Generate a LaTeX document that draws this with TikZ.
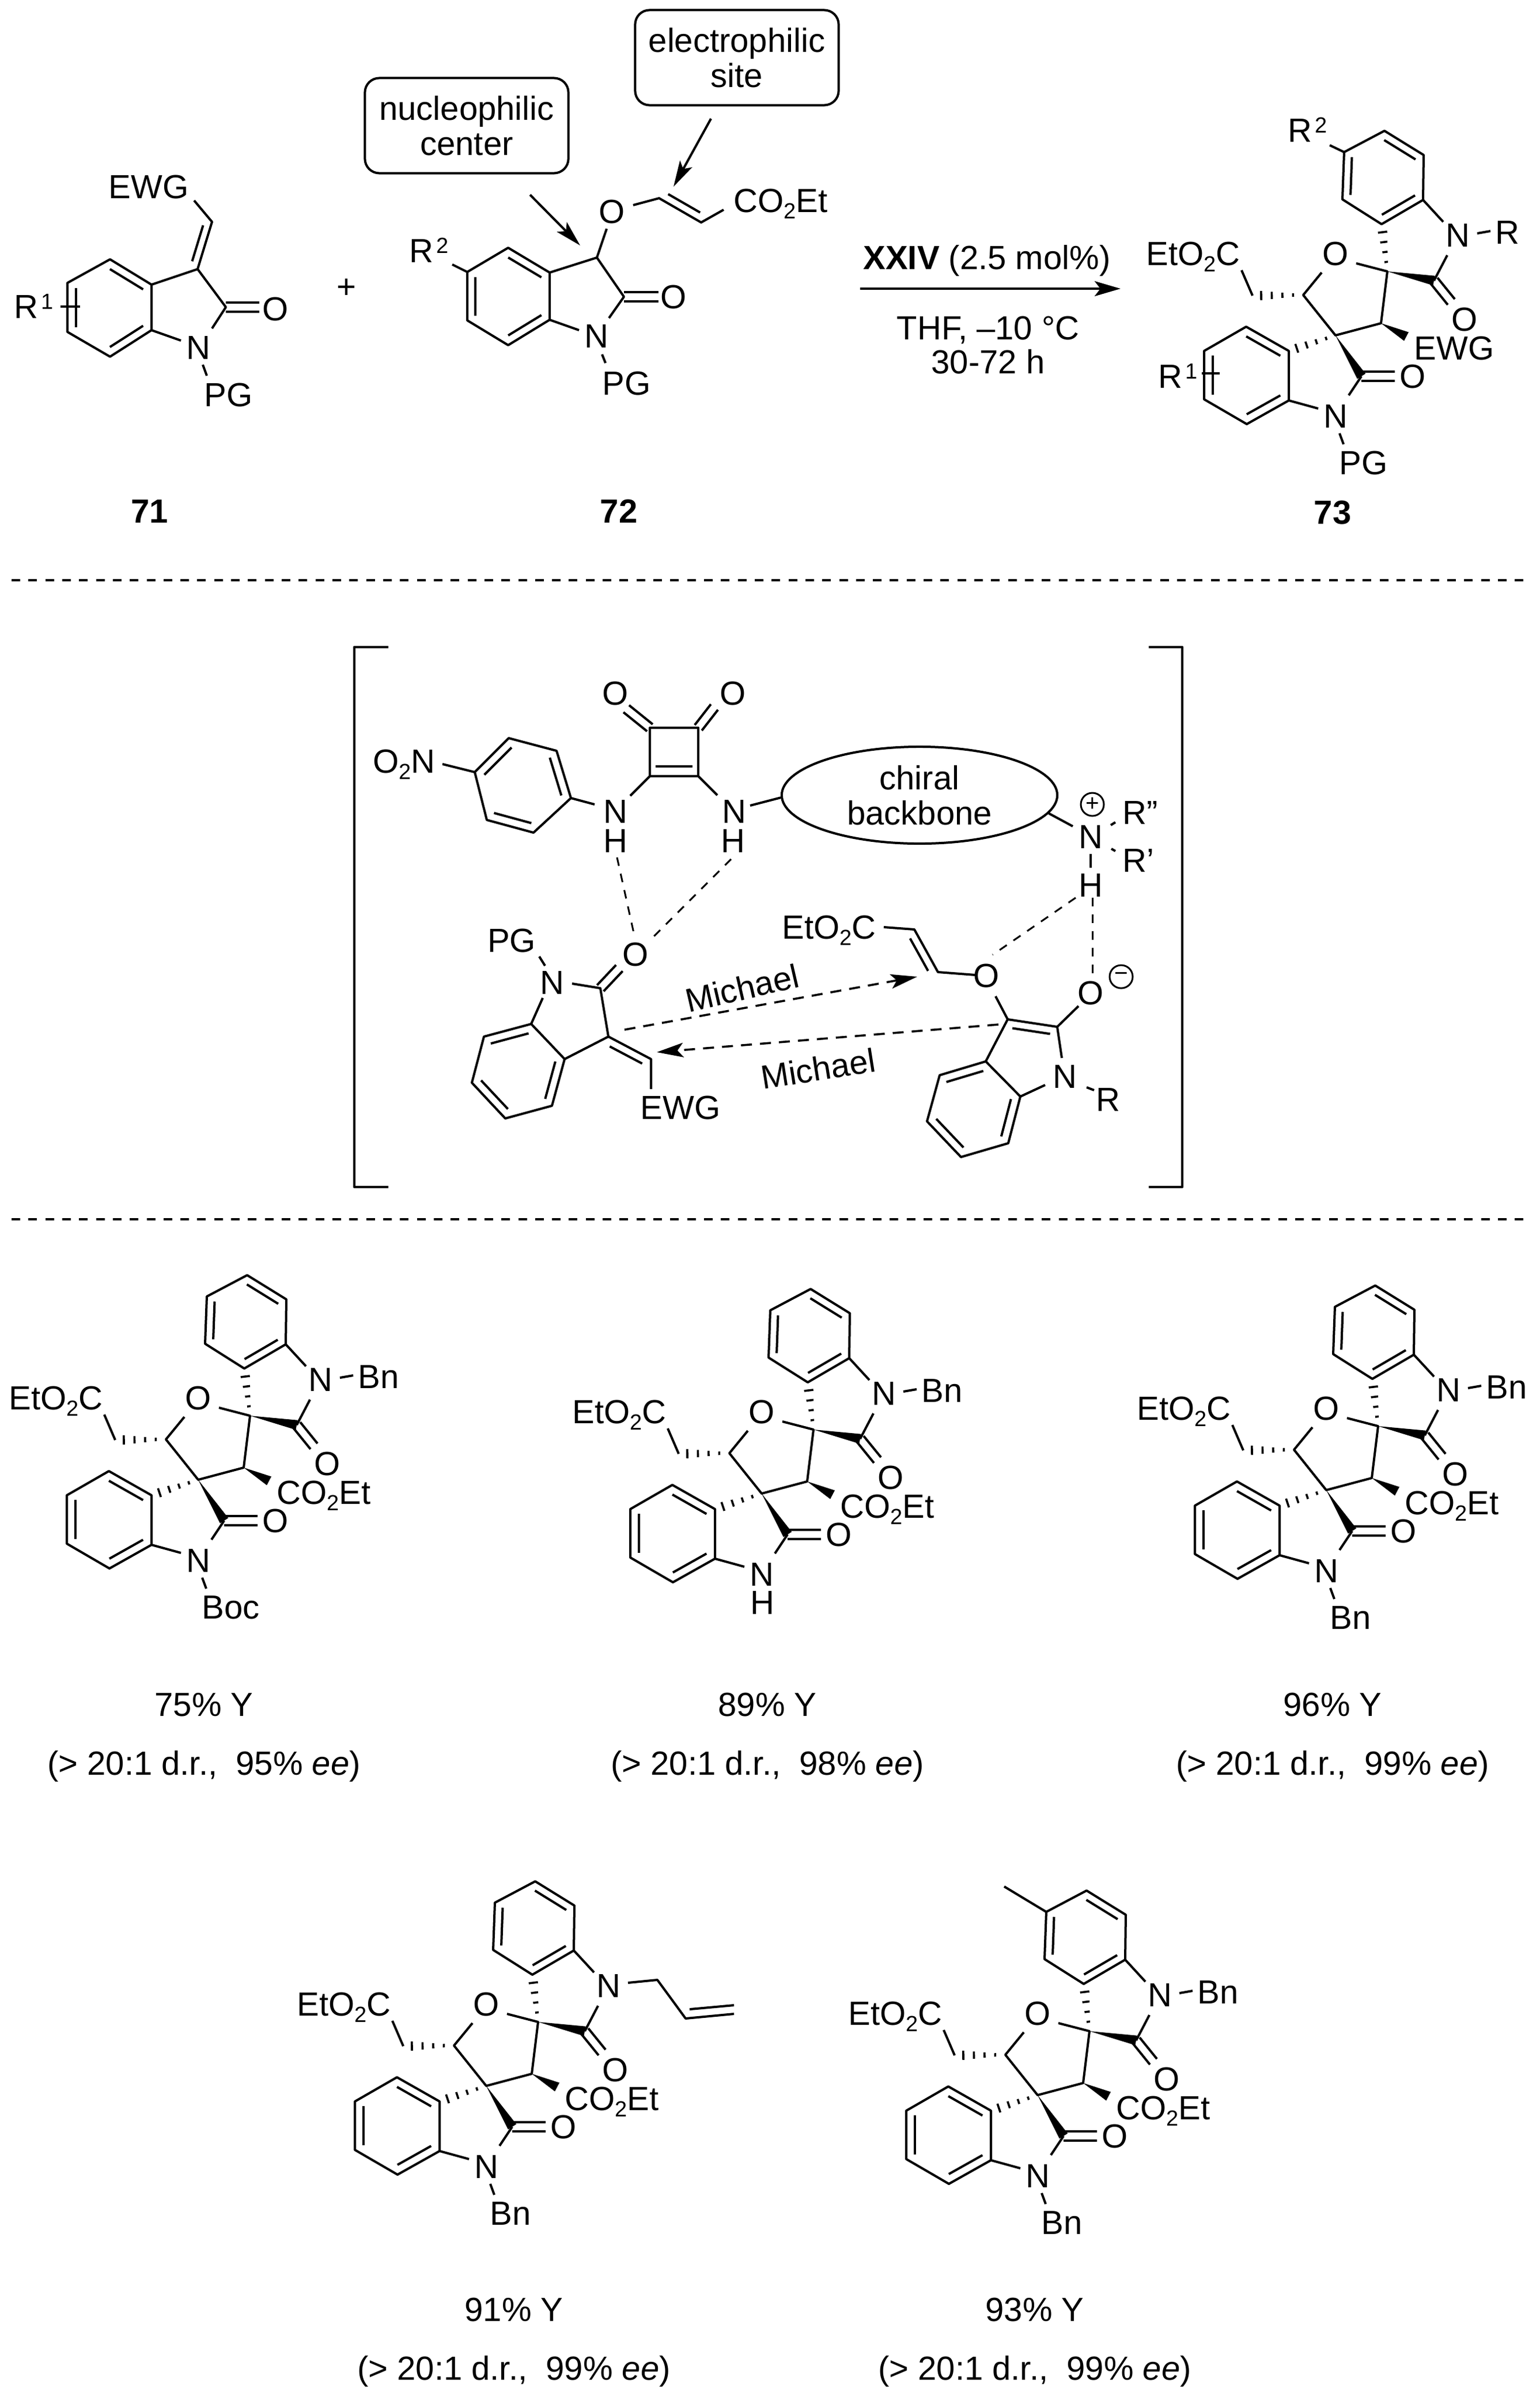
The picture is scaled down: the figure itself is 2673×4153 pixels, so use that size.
\documentclass[tikz,border=0pt]{standalone}
\usepackage{fontspec}
\setmainfont{Liberation Sans}[Ligatures=ResetAll]
\usetikzlibrary{calc,arrows.meta,shapes.geometric}

\newcommand{\chemfont}{\fontsize{16.5}{17.3}\selectfont}
\newcommand{\lowd}[1]{\raisebox{-.11cm}{\fontsize{10.8}{11}\selectfont #1}}
\newcommand{\highd}[1]{\kern.05cm\raisebox{.16cm}{\fontsize{10.8}{11}\selectfont #1}}

\tikzset{
    bond/.style={line width=.04cm,line join=round},
    hashline/.style={line width=.036cm},
    hbond/.style={line width=.03cm,dash pattern=on .15cm off .14cm},
    rule/.style={line width=.04cm,dash pattern=on .15cm off .143cm},
    atom/.style={inner sep=0pt,font=\chemfont,text height=.41cm,text depth=0pt},
    tag/.style={atom,font=\chemfont\bfseries},
    callout/.style={draw,line width=.04cm,rounded corners=.25cm,minimum width=3.53cm,
        minimum height=1.65cm,align=center,font=\chemfont},
    charge/.style={draw,circle,line width=.03cm,inner sep=0pt,minimum size=.4cm,
        font=\fontsize{11.5}{12}\selectfont},
    pointer/.style={bond,-{Stealth[length=.45cm,width=.24cm,inset=.1cm]}},
    attack/.style={line width=.036cm,dash pattern=on .19cm off .14cm,
        -{Stealth[length=.46cm,width=.25cm,inset=.1cm]}},
}

% a ring whose bonds 1-2, 3-4 and 5-6 are double
\newcommand{\benzring}[7]{%
    \coordinate (#11) at (#2);
    \coordinate (#12) at (#3);
    \coordinate (#13) at (#4);
    \coordinate (#14) at (#5);
    \coordinate (#15) at (#6);
    \coordinate (#16) at (#7);
    \coordinate (#1c) at ($(#11)!.5!(#14)$);
    \draw[bond] (#11) -- (#12) -- (#13) -- (#14) -- (#15) -- (#16) -- cycle;
    \draw[bond] ($(#11)!.2!(#1c)$) -- ($(#12)!.2!(#1c)$);
    \draw[bond] ($(#13)!.2!(#1c)$) -- ($(#14)!.2!(#1c)$);
    \draw[bond] ($(#15)!.2!(#1c)$) -- ($(#16)!.2!(#1c)$);
}
% C=O, two lines either side of the axis
\newcommand{\dblbond}[2]{%
    \draw[bond] ($(#1)!.078cm!90:(#2)$) -- ($(#2)!.078cm!-90:(#1)$);
    \draw[bond] ($(#1)!.078cm!-90:(#2)$) -- ($(#2)!.078cm!90:(#1)$);
}
% the short second line of an alkene
\newcommand{\sidebond}[3]{%
    \draw[bond] ($(#1)!.12!(#2)!#3!90:(#2)$) -- ($(#2)!.12!(#1)!#3!-90:(#1)$);
}
\newcommand{\wedgebond}[2]{%
    \fill (#1) -- ($(#2)!.085cm!90:(#1)$) -- ($(#2)!.085cm!-90:(#1)$) -- cycle;
}
\newcommand{\hashbond}[2]{%
    \foreach \hstep/\hwid in {.2/.03,.41/.045,.62/.062,.83/.08}{
        \draw[hashline] ($(#1)!\hstep!(#2)!\hwid cm!90:(#2)$)
            -- ($(#1)!\hstep!(#2)!\hwid cm!-90:(#2)$);
    }
}
% the bis-spirooxindole, in the frame of the first product
\newcommand{\spirocore}[1]{%
    \benzring{up}{497,2255}{429,2213}{359,2250}{356,2332}{424,2375}{496,2333}
    \benzring{lo}{263,2595}{189,2553}{116,2595}{116,2679}{190,2722}{263,2681}
    \node[atom] (oring) at (344,2426) {O};
    \node[atom] (ntop) at (556,2394) {N};
    \node[atom] (otop) at (568,2540) {O};
    \node[atom] (nlow) at (344,2708) {N};
    \node[atom] (olow) at (478,2639) {O};
    \node[atom,anchor=east] (ester) at (179,2426) {EtO\lowd{2}C};
    \node[atom,anchor=west] (ewg) at (480,2590) {#1};
    \coordinate (sptop) at (434,2457);
    \coordinate (splow) at (344,2568);
    \coordinate (chest) at (288,2498);
    \coordinate (chewg) at (423,2547);
    \coordinate (cotop) at (515,2473);
    \coordinate (colow) at (389,2639);
    \coordinate (chtwo) at (200,2499);
    \draw[bond] (320,2459) -- (chest) -- (splow) -- (chewg) -- (sptop) -- (380,2443);
    \draw[bond] (chtwo) -- (181,2455);
    \draw[bond] (up6) -- (531,2371);
    \draw[bond] (538,2429) -- (cotop);
    \draw[bond] (colow) -- (367,2672);
    \draw[bond] (lo6) -- (314,2695);
    \hashbond{chest}{chtwo}
    \hashbond{sptop}{up5}
    \hashbond{splow}{lo1}
    \wedgebond{sptop}{cotop}
    \wedgebond{splow}{colow}
    \wedgebond{chewg}{467,2570}
    \dblbond{cotop}{545,2510}
    \dblbond{colow}{447,2639}
}
% N-Bn on the upper lactam
\newcommand{\topgroup}[1]{%
    \draw[bond] (590,2391) -- (613,2387);
    \node[atom,anchor=west] (subtop) at (621,2389) {#1};
}
% substituent on the lower lactam
\newcommand{\lowgroup}[1]{%
    \draw[bond] (351,2738) -- (358,2757);
    \node[atom,anchor=west] (sublow) at (350,2789) {#1};
}

\begin{document}
\begin{tikzpicture}[x=.01cm,y=-.01cm]
        \useasboundingbox (0,0) rectangle (2673,4153);
        % The oxindole 71
        \benzring{ia}{263,494}{191,450}{117,491}{117,576}{191,619}{263,573}
        \coordinate (iac3) at (343,467);
        \coordinate (iac2) at (392,533);
        \coordinate (iach) at (368,385);
        \node[atom] (ian) at (344,603) {N};
        \node[atom] (iao) at (478,536) {O};
        \node[atom] (iaewg) at (258,324) {EWG};
        \node[atom,anchor=west] (iapg) at (354,685) {PG};
        \node[atom,anchor=west] (iar) at (24,532) {R\highd{1}};
        \draw[bond] (ia1) -- (iac3) -- (iac2) -- (368,570);
        \draw[bond] (ia6) -- (314,591);
        \draw[bond] (352,633) -- (359,652);
        \draw[bond] (iac3) -- (iach) -- (337,348);
        \sidebond{iac3}{iach}{.13cm}
        \dblbond{iac2}{450,533}
        \draw[bond] (105,532) -- (139,532);
        \node[tag] (lab71) at (260,887) {71};
        \node[atom] (plus) at (601,497) {+};
        % The oxindole 72
        \benzring{ib}{954,473}{882,430}{811,472}{811,556}{882,599}{954,555}
        \coordinate (ibc3) at (1036,447);
        \coordinate (ibc2) at (1083,515);
        \coordinate (ibva) at (1144,344);
        \coordinate (ibvb) at (1217,386);
        \node[atom] (ibn) at (1035,583) {N};
        \node[atom] (ibo) at (1169,515) {O};
        \node[atom] (ibetho) at (1062,367) {O};
        \node[atom,anchor=west] (ibpg) at (1045,665) {PG};
        \node[atom,anchor=west] (ibr) at (710,435) {R\highd{2}};
        \node[atom,anchor=west] (ibest) at (1273,348) {CO\lowd{2}Et};
        \draw[bond] (ib1) -- (ibc3) -- (ibc2) -- (1057,552);
        \draw[bond] (ib6) -- (1005,573);
        \draw[bond] (1045,615) -- (1051,630);
        \draw[bond] (ib3) -- (785,459);
        \draw[bond] (ibc3) -- (1053,397);
        \draw[bond] (1099,356) -- (ibva) -- (ibvb) -- (1256,364);
        \sidebond{ibva}{ibvb}{.14cm}
        \dblbond{ibc2}{1143,515}
        \node[tag] (lab72) at (1074,887) {72};
        % The two labels and their arrows
        \node[callout] (nucbox) at (810,218) {nucleophilic\\center};
        \node[callout] (elebox) at (1279,100) {electrophilic\\site};
        \coordinate (nucfrom) at (920,338);
        \coordinate (nucto) at (1007,426);
        \coordinate (elefrom) at (1234,206);
        \coordinate (eleto) at (1169,324);
        \draw[pointer] (nucfrom) -- (nucto);
        \draw[pointer] (elefrom) -- (eleto);
        % The reaction arrow
        \coordinate (rxnfrom) at (1493,501);
        \coordinate (rxnto) at (1945,501);
        \draw[bond,-{Stealth[length=.45cm,width=.26cm,inset=.1cm]}] (rxnfrom) -- (rxnto);
        \node[atom] (cond1) at (1713,447) {\textbf{XXIV} (2.5 mol\%)};
        \node[atom] (cond2) at (1715,569) {THF, –10 °C};
        \node[atom] (cond3) at (1715,628) {30-72 h};
        % The product 73
        \begin{scope}[shift={(1974,-1986)},name prefix=pz-]
            \spirocore{EWG}
            \topgroup{R}
            \lowgroup{PG}
            \draw[bond] (up3) -- (334,2238);
            \node[atom,anchor=west] (rtwo) at (261,2212) {R\highd{2}};
            \node[atom,anchor=west] (rone) at (36,2639) {R\highd{1}};
            \draw[bond] (112,2634) -- (143,2634);
        \end{scope}
        \node[tag] (lab73) at (2313,889) {73};
        % The dashed rules
        \draw[rule] (20,1007) -- (2653,1007);
        \draw[rule] (20,2116) -- (2653,2116);
        % The brackets
        \draw[bond,line width=.042cm] (674,1123) -- (615,1123) -- (615,2060) -- (674,2060);
        \draw[bond,line width=.042cm] (1994,1123) -- (2052,1123) -- (2052,2060) -- (1994,2060);
        % The squaramide
        \coordinate (sqa) at (1128,1263);
        \coordinate (sqb) at (1212,1263);
        \coordinate (sqc) at (1212,1347);
        \coordinate (sqd) at (1128,1347);
        \draw[bond] (sqa) -- (sqb) -- (sqc) -- (sqd) -- cycle;
        \sidebond{sqd}{sqc}{.17cm}
        \node[atom] (soa) at (1068,1203) {O};
        \node[atom] (sob) at (1272,1203) {O};
        \dblbond{sqa}{1087,1230}
        \dblbond{sqb}{1240,1227}
        \node[atom] (sna) at (1068,1408) {N};
        \node[atom] (sha) at (1068,1459) {H};
        \node[atom] (snb) at (1274,1408) {N};
        \node[atom] (shb) at (1272,1459) {H};
        \draw[bond] (sqd) -- (1094,1381);
        \draw[bond] (sqc) -- (1245,1380);
        % The nitrophenyl
        \benzring{ar}{824,1340}{883,1281}{966,1303}{991,1385}{926,1445}{845,1423}
        \draw[bond] (ar4) -- (1032,1396);
        \draw[bond] (768,1326) -- (ar1);
        \node[atom,anchor=west] (nitro) at (647,1321) {O\lowd{2}N};
        % The backbone and the ammonium
        \node[draw,ellipse,line width=.04cm,minimum width=4.78cm,minimum height=1.68cm,
            inner sep=0pt,align=center,font=\chemfont] (backbone) at (1596,1380) {chiral\\backbone};
        \draw[bond] (1302,1398) -- (backbone.181);
        \draw[bond] (backbone.-8) -- (1862,1434);
        \node[atom] (amn) at (1893,1452) {N};
        \node[atom] (amh) at (1893,1536) {H};
        \node[charge] (plusn) at (1896,1396) {+};
        \node[atom,anchor=west] (rpp) at (1948,1410) {R''};
        \node[atom,anchor=west] (rp) at (1948,1493) {R'};
        \draw[bond] (1928,1432) -- (1936,1427);
        \draw[bond] (1929,1473) -- (1936,1477);
        \draw[bond] (1893,1482) -- (1893,1506);
        % The oxindole acceptor
        \benzring{ac}{922,1777}{840,1799}{819,1879}{877,1941}{958,1919}{980,1838}
        \coordinate (acc2) at (1042,1715);
        \coordinate (acc3) at (1056,1799);
        \coordinate (acch) at (1130,1838);
        \node[atom] (acn) at (958,1705) {N};
        \node[atom] (aco) at (1103,1656) {O};
        \node[atom] (acpg) at (888,1632) {PG};
        \node[atom] (acewg) at (1181,1922) {EWG};
        \draw[bond] (993,1707) -- (acc2) -- (acc3) -- (ac6);
        \draw[bond] (ac1) -- (942,1732);
        \draw[bond] (936,1660) -- (946,1676);
        \draw[bond] (acc3) -- (acch) -- (1130,1890);
        \sidebond{acc3}{acch}{-.14cm}
        \dblbond{acc2}{1075,1680}
        % The enolate donor
        \benzring{do}{1711,1842}{1631,1866}{1609,1946}{1668,2008}{1750,1984}{1771,1903}
        \coordinate (doc3) at (1749,1769);
        \coordinate (doc2) at (1835,1782);
        \coordinate (dova) at (1587,1613);
        \coordinate (dovb) at (1628,1687);
        \node[atom] (don) at (1848,1868) {N};
        \node[atom] (doo) at (1712,1693) {O};
        \node[atom] (domin) at (1893,1723) {O};
        \node[charge] (minuso) at (1946,1695) {−};
        \node[atom] (dor) at (1923,1908) {R};
        \node[atom,anchor=east] (doest) at (1521,1609) {EtO\lowd{2}C};
        \draw[bond] (do1) -- (doc3) -- (doc2) -- (1843,1836);
        \draw[bond] (do6) -- (1814,1883);
        \draw[bond] (1886,1887) -- (1899,1892);
        \draw[bond] (doc2) -- (1872,1746);
        \draw[bond] (doc3) -- (1728,1729);
        \sidebond{doc3}{doc2}{-.14cm}
        \draw[bond] (1534,1609) -- (dova) -- (dovb) -- (1693,1692);
        \sidebond{dova}{dovb}{-.14cm}
        % The hydrogen bonds
        \draw[hbond] (1071,1488) -- (1100,1619);
        \draw[hbond] (1269,1491) -- (1135,1625);
        \draw[hbond] (1867,1558) -- (1723,1657);
        \draw[hbond] (1896,1558) -- (1896,1692);
        % The two Michael additions
        \coordinate (miafrom) at (1084,1787);
        \coordinate (miato) at (1592,1695);
        \coordinate (mibfrom) at (1733,1778);
        \coordinate (mibto) at (1140,1826);
        \draw[attack] (miafrom) -- (miato);
        \draw[attack] (mibfrom) -- (mibto);
        \node[atom,rotate=13] (mica) at (1288,1715) {Michael};
        \node[atom,rotate=9] (micb) at (1420,1855) {Michael};
        % The five products
        \begin{scope}[name prefix=pa-]
            \spirocore{CO\lowd{2}Et}
            \topgroup{Bn}
            \lowgroup{Boc}
        \end{scope}
        \begin{scope}[shift={(978,24)},name prefix=pb-]
            \spirocore{CO\lowd{2}Et}
            \topgroup{Bn}
            \node[atom] (hlow) at (345,2757) {H};
        \end{scope}
        \begin{scope}[shift={(1958,18)},name prefix=pc-]
            \spirocore{CO\lowd{2}Et}
            \topgroup{Bn}
            \lowgroup{Bn}
        \end{scope}
        \begin{scope}[shift={(500,1052)},name prefix=pd-]
            \spirocore{CO\lowd{2}Et}
            \lowgroup{Bn}
            % The allyl
            \coordinate (alla) at (641,2384);
            \coordinate (allb) at (690,2451);
            \coordinate (allc) at (774,2443);
            \draw[bond] (590,2389) -- (alla) -- (allb) -- (allc);
            \draw[bond] (697,2435) -- (774,2428);
        \end{scope}
        \begin{scope}[shift={(1457,1068)},name prefix=pe-]
            \spirocore{CO\lowd{2}Et}
            \topgroup{Bn}
            \lowgroup{Bn}
            % The methyl
            \coordinate (methyl) at (286,2206);
            \draw[bond] (up3) -- (methyl);
        \end{scope}
        % The yields
        \node[atom] (ya) at (354,2958) {75\% Y};
        \node[atom] (yb) at (1332,2958) {89\% Y};
        \node[atom] (yc) at (2313,2958) {96\% Y};
        \node[atom] (yd) at (892,4008) {91\% Y};
        \node[atom] (ye) at (1796,4008) {93\% Y};
        \node[atom] (sa) at (354,3060) {(> 20:1 d.r.,\ \ 95\% \textit{ee})};
        \node[atom] (sb) at (1332,3060) {(> 20:1 d.r.,\ \ 98\% \textit{ee})};
        \node[atom] (sc) at (2313,3060) {(> 20:1 d.r.,\ \ 99\% \textit{ee})};
        \node[atom] (sd) at (892,4110) {(> 20:1 d.r.,\ \ 99\% \textit{ee})};
        \node[atom] (se) at (1796,4110) {(> 20:1 d.r.,\ \ 99\% \textit{ee})};
    \end{tikzpicture}
\end{document}
